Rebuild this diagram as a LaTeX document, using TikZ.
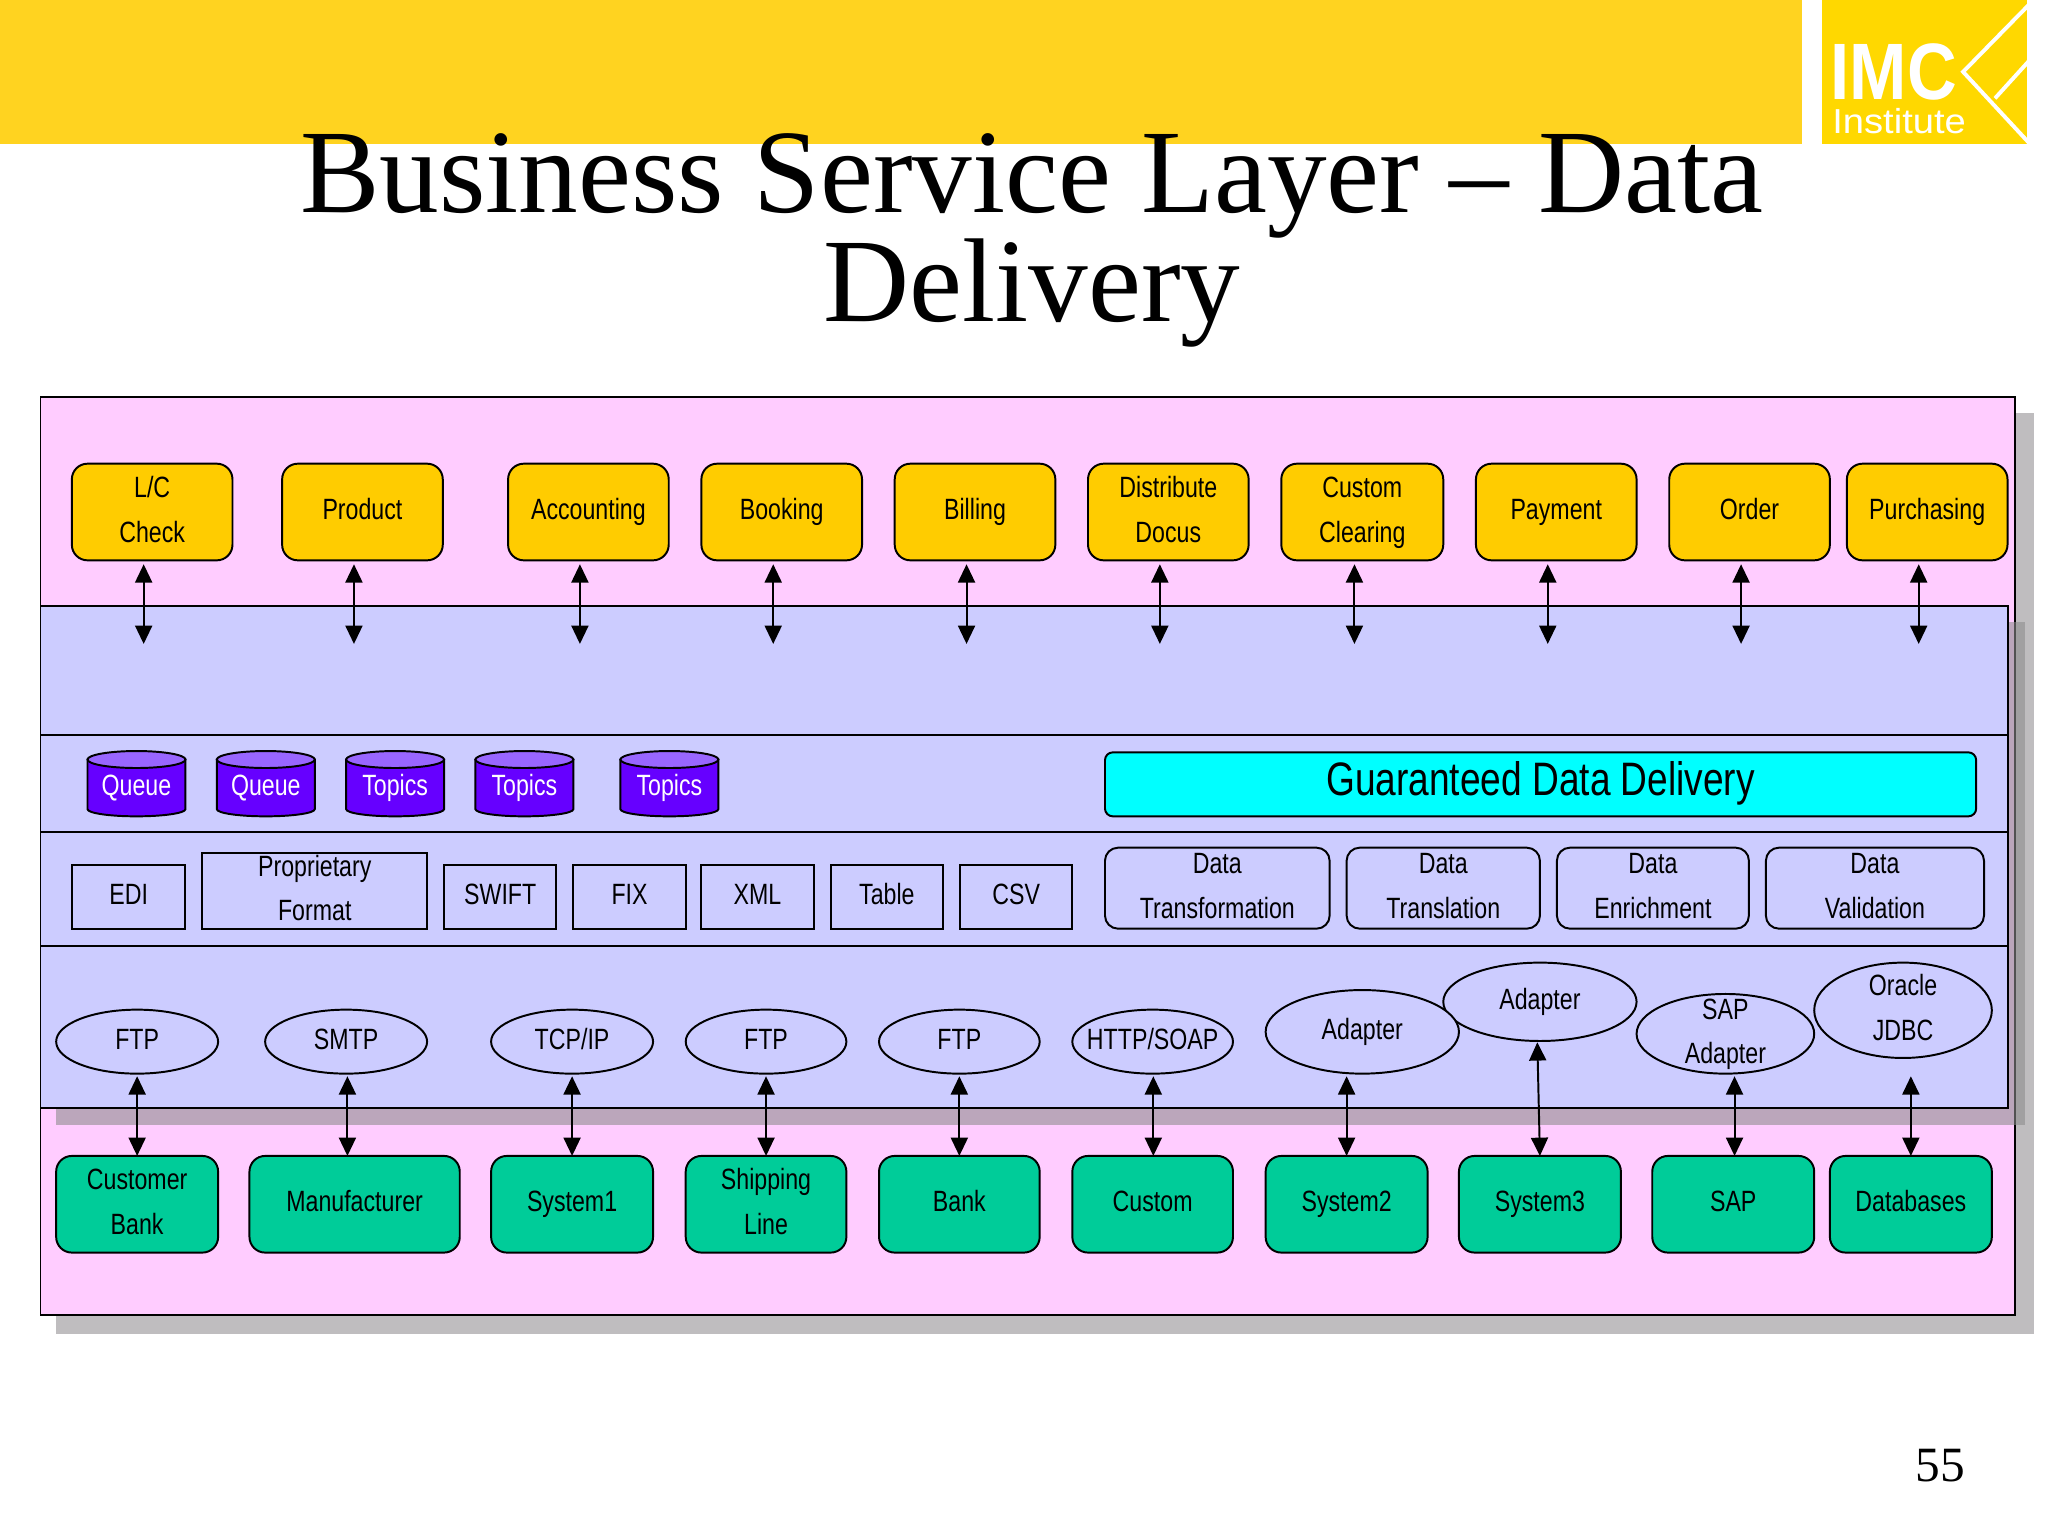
\documentclass[tikz,border=0pt]{standalone}
\usepackage{fontspec}
\setmainfont{Liberation Sans}[FakeStretch=0.79]
\newfontfamily\titlef{Liberation Serif}
\newfontfamily\logobig{Liberation Sans Bold}[FakeStretch=0.86]
\newfontfamily\logosmall{Liberation Sans}[FakeStretch=1.1]
\usetikzlibrary{shapes.geometric,arrows.meta,calc}
\definecolor{barY}{HTML}{FFD320}
\definecolor{logoY}{HTML}{FFD800}
\definecolor{pinkbg}{HTML}{FFCCFF}
\definecolor{panelb}{HTML}{CCCCFF}
\definecolor{shadeg}{HTML}{BFBDBF}
\definecolor{panelshadow}{RGB}{140,140,140}
\definecolor{orangeb}{HTML}{FFCC00}
\definecolor{greenb}{HTML}{00CC99}
\definecolor{purpleb}{HTML}{6600FF}
\definecolor{purplet}{HTML}{9966FF}
\definecolor{cyanb}{HTML}{00FFFF}
\def\uu{0.97959pt}
\def\ls{\rule[-10pt]{0pt}{33.5pt}}
\tikzset{
  x=\uu, y=-\uu,
  base/.style={draw=black,line width=1.5*\uu,inner sep=0pt,outer sep=0pt,
    font=\fontsize{22}{33.5}\selectfont},
  tx/.style={align=center,inner sep=0pt,font=\fontsize{22}{33.5}\selectfont},
  orangebox/.style={base,rounded corners=12*\uu,fill=orangeb},
  greenbox/.style={base,rounded corners=12*\uu,fill=greenb},
  plainbox/.style={base,fill=panelb},
  softbox/.style={base,rounded corners=10*\uu,fill=panelb},
  oval/.style={base,ellipse,fill=panelb},
  dbl/.style={line width=1.5*\uu,{Triangle[length=14*\uu,width=13*\uu]}-{Triangle[length=14*\uu,width=13*\uu]}},
  sep/.style={line width=1.5*\uu,draw=black},
}
% style, name, x1, y1, x2, y2, text
\newcommand\shp[7]{\node[#1,minimum width={(#5-#3)*\uu},minimum height={(#6-#4)*\uu},
  label={[tx,yshift=1*\uu]center:{\ls#7\ls}}] (#2) at ({(#3+#5)/2},{(#4+#6)/2}) {};}
\newcommand\cann[3]{
  \draw[line width=1.5*\uu,fill=purpleb] (#2,581.5) -- (#2,619.5)
     arc[start angle=180,end angle=360,x radius=37.5*\uu,y radius=5.5*\uu] -- ({#2+75},581.5) -- cycle;
  \draw[line width=1.5*\uu,fill=purplet] ({#2+37.5},581.5) ellipse[x radius=37.5*\uu,y radius=6.5*\uu];
  \node[tx,text=white] (#1) at ({#2+37.5},602.5) {\ls#3\ls};}
\begin{document}
\begin{tikzpicture}
\useasboundingbox (0,0) rectangle (1568,1176);
\fill[white] (0,0) rectangle (1568,1176);
\fill[barY] (0,0) rectangle (1380,110);
\fill[logoY] (1395,0) rectangle (1552,110);
\draw[white,line width=3*\uu] (1554,3) -- (1503,55) -- (1554,110);
\draw[white,line width=3*\uu] (1527.4,75.3) -- (1554,46);
\node[text=white,inner sep=0pt,font=\logobig\fontsize{60}{60}\selectfont] (imc) at (1450,55) {IMC};
\node[text=white,inner sep=0pt,font=\logosmall\fontsize{26}{26}\selectfont] (inst) at (1454,93) {Institute};
\node[align=center,inner sep=0pt,font=\titlef\fontsize{89.4}{78.4}\selectfont] (title) at (790,184) {Business Service Layer – Data\\Delivery};
% frames
\fill[shadeg] (43,316) rectangle (1557,1021);
\draw[line width=1.5*\uu,fill=pinkbg] (31,304) rectangle (1543,1007);
\fill[panelshadow,opacity=.59] (43,476) rectangle (1550,861);
\draw[line width=1.5*\uu,fill=panelb] (31,464) rectangle (1537,848);
\draw[sep] (31,563) -- (1537,563);
\draw[sep] (31,637) -- (1537,637);
\draw[sep] (31,724) -- (1537,724);
% top services
\shp{orangebox}{o1}{55}{355}{178}{429}{L/C\\Check}
\shp{orangebox}{o2}{216}{355}{339}{429}{Product}
\shp{orangebox}{o3}{389}{355}{512}{429}{Accounting}
\shp{orangebox}{o4}{537}{355}{660}{429}{Booking}
\shp{orangebox}{o5}{685}{355}{808}{429}{Billing}
\shp{orangebox}{o6}{833}{355}{956}{429}{Distribute\\Docus}
\shp{orangebox}{o7}{981}{355}{1105}{429}{Custom\\Clearing}
\shp{orangebox}{o8}{1130}{355}{1253}{429}{Payment}
\shp{orangebox}{o9}{1278}{355}{1401}{429}{Order}
\shp{orangebox}{o10}{1414}{355}{1537}{429}{Purchasing}
\foreach \n/\xx in {1/110,2/271,3/444,4/592,5/740,6/888,7/1037,8/1185,9/1333,10/1469}{
  \coordinate (a\n) at (\xx,493);
  \draw[dbl,shorten <=3*\uu] (o\n.south -| a\n) -- (a\n);
}
% queues
\cann{c1}{67}{Queue}
\cann{c2}{166}{Queue}
\cann{c3}{265}{Topics}
\cann{c4}{364}{Topics}
\cann{c5}{475}{Topics}
\node[base,rounded corners=6*\uu,fill=cyanb,minimum width={667*\uu},minimum height={49*\uu},
  label={[tx,font=\fontsize{35.2}{38}\selectfont,yshift=1*\uu]center:{Guaranteed Data Delivery}}] (gdd) at (1179.5,600.5) {};
% formats
\shp{plainbox}{f1}{55}{662}{142}{711}{EDI}
\shp{plainbox}{f2}{155}{653}{327}{711}{Proprietary\\Format}
\shp{plainbox}{f3}{340}{662}{426}{711}{SWIFT}
\shp{plainbox}{f4}{439}{662}{525}{711}{FIX}
\shp{plainbox}{f5}{537}{662}{623}{711}{XML}
\shp{plainbox}{f6}{636}{662}{722}{711}{Table}
\shp{plainbox}{f7}{735}{662}{821}{711}{CSV}
\shp{softbox}{d1}{846}{649}{1018}{711}{Data\\Transformation}
\shp{softbox}{d2}{1031}{649}{1179}{711}{Data\\Translation}
\shp{softbox}{d3}{1192}{649}{1339}{711}{Data\\Enrichment}
\shp{softbox}{d4}{1352}{649}{1519}{711}{Data\\Validation}
% ovals
\shp{oval}{e1}{43}{773}{167}{822}{FTP}
\shp{oval}{e2}{203}{773}{327}{822}{SMTP}
\shp{oval}{e3}{376}{773}{500}{822}{TCP/IP}
\shp{oval}{e4}{525}{773}{648}{822}{FTP}
\shp{oval}{e5}{673}{773}{796}{822}{FTP}
\shp{oval}{e6}{821}{773}{944}{822}{HTTP/SOAP}
\shp{oval}{e8}{1105}{737}{1253}{797}{Adapter}
\shp{oval}{e7}{969}{758}{1117}{822}{Adapter}
\shp{oval}{e9}{1253}{761}{1389}{822}{SAP\\Adapter}
\shp{oval}{e10}{1389}{737}{1525}{810}{Oracle\\JDBC}
% systems
\shp{greenbox}{g1}{43}{885}{167}{959}{Customer\\Bank}
\shp{greenbox}{g2}{191}{885}{352}{959}{Manufacturer}
\shp{greenbox}{g3}{376}{885}{500}{959}{System1}
\shp{greenbox}{g4}{525}{885}{648}{959}{Shipping\\Line}
\shp{greenbox}{g5}{673}{885}{796}{959}{Bank}
\shp{greenbox}{g6}{821}{885}{944}{959}{Custom}
\shp{greenbox}{g7}{969}{885}{1093}{959}{System2}
\shp{greenbox}{g8}{1117}{885}{1241}{959}{System3}
\shp{greenbox}{g9}{1265}{885}{1389}{959}{SAP}
\shp{greenbox}{g10}{1401}{885}{1525}{959}{Databases}
\foreach \n/\xx in {1/105,2/266,3/438,4/586.5,5/734.5,6/883,7/1031,9/1328}{
  \coordinate (b\n) at (\xx,824);
  \draw[dbl] (b\n) -- (g\n.north -| b\n);
}
\coordinate (b8) at (1177,798);
\draw[dbl] (b8) -- (g8.north);
\coordinate (b10) at (1463,824);
\draw[dbl] (b10) -- (g10.north);
\node[inner sep=0pt,font=\titlef\fontsize{37}{37}\selectfont] (pg) at (1485.5,1122) {55};
\end{tikzpicture}
\end{document}
